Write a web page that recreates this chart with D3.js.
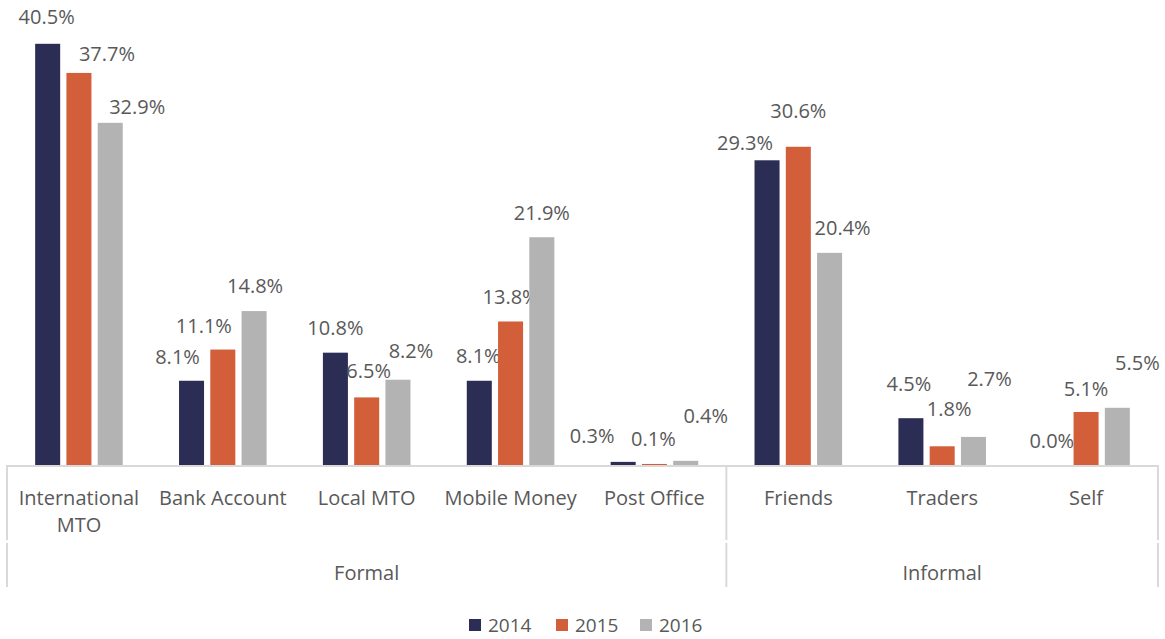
<!DOCTYPE html>
<html>
<head>
<meta charset="utf-8">
<script src="https://cdn.jsdelivr.net/npm/d3@7"></script>
<style>
  body { margin: 0; background: #fff; }
  text { font-family: "Open Sans", "Noto Sans", sans-serif; fill: #595959; }
</style>
</head>
<body>
<div id="chart-area"></div>
<script>
// DATA
const categories = ["International MTO", "Bank Account", "Local MTO", "Mobile Money", "Post Office", "Friends", "Traders", "Self"]
const groupNames = ["Formal", "Informal"]
const groupSizes = [5, 3]
const years = ["2014", "2015", "2016"]
const v2014 = [40.5, 8.1, 10.8, 8.1, 0.3, 29.3, 4.5, 0.0]
const v2015 = [37.7, 11.1, 6.5, 13.8, 0.1, 30.6, 1.8, 5.1]
const v2016 = [32.9, 14.8, 8.2, 21.9, 0.4, 20.4, 2.7, 5.5]
const seriesValues = [v2014, v2015, v2016]

// label nudges [dx, dy] (the labels in the original were dragged around by hand)
const nudge = [
  [[-1, -3], [-14, 0], [0, -1], [-1, -1], [-31, -2], [-22, 7], [-2, -10], [-3, 0]],
  [[28, 5], [-19, 0], [2, -2], [0, 0], [-1, -1], [0, -12], [7, -13], [0, 1]],
  [[27, 8], [1, -1], [13, -5], [0, 0], [20, -21], [13, -1], [16, -34], [20, -21]]
]

const COLORS = ["#2b2d55", "#d35f3a", "#b3b3b3"]
const WIDTH = 1165
const HEIGHT = 639
const AXIS_LEFT = 7
const AXIS_RIGHT = 1158
const BASE = 466
const AXIS_BOTTOM = 587
const LINE = "#d9d9d9"
const FONT = "20px"

const svg = d3.select("#chart-area").append("svg")
  .attr("width", WIDTH)
  .attr("height", HEIGHT)

// SCALES
const x = d3.scaleBand()
  .domain(categories)
  .range([AXIS_LEFT, AXIS_RIGHT])
  .padding(0)

const xInner = d3.scaleBand()
  .domain(years)
  .range([0, x.bandwidth()])
  .paddingInner(0.2)
  .paddingOuter(0.9)

const y = d3.scaleLinear()
  .domain([0, 45])
  .range([BASE - 1, BASE - 1 - 45 * 10.4])

// BARS
const rows = categories.map((c, i) => ({ cat: c, i: i }))

years.forEach((yr, s) => {
  const g = svg.append("g").attr("class", "series-" + yr)

  g.selectAll("rect")
    .data(rows.filter(d => seriesValues[s][d.i] > 0))
    .enter().append("rect")
      .attr("x", d => x(d.cat) + xInner(yr))
      .attr("width", xInner.bandwidth())
      .attr("y", d => y(seriesValues[s][d.i]))
      .attr("height", d => y(0) - y(seriesValues[s][d.i]))
      .attr("fill", COLORS[s])

  g.selectAll("text")
    .data(rows)
    .enter().append("text")
      .attr("x", d => x(d.cat) + xInner(yr) + xInner.bandwidth() / 2 + nudge[s][d.i][0])
      .attr("y", d => y(seriesValues[s][d.i]) - 17 + nudge[s][d.i][1])
      .attr("text-anchor", "middle")
      .style("font-size", FONT)
      .text(d => seriesValues[s][d.i].toFixed(1) + "%")
})

// AXIS LINES
const axisG = svg.append("g").attr("class", "x axis")

axisG.append("line")
  .attr("x1", AXIS_LEFT - 1).attr("x2", AXIS_RIGHT + 1)
  .attr("y1", BASE).attr("y2", BASE)
  .attr("stroke", LINE).attr("stroke-width", 2)

let cum = 0
const splits = [0]
groupSizes.forEach(n => { cum += n; splits.push(cum) })

splits.forEach(k => {
  const xx = k < categories.length ? x(categories[k]) : AXIS_RIGHT
  axisG.append("line")
    .attr("x1", xx).attr("x2", xx)
    .attr("y1", BASE).attr("y2", 540)
    .attr("stroke", LINE).attr("stroke-width", 2)
  axisG.append("line")
    .attr("x1", xx).attr("x2", xx)
    .attr("y1", 543).attr("y2", AXIS_BOTTOM)
    .attr("stroke", LINE).attr("stroke-width", 2)
})

// CATEGORY LABELS
const catLabels = axisG.selectAll(".cat")
  .data(categories)
  .enter().append("text")
    .attr("class", "cat")
    .attr("x", d => x(d) + x.bandwidth() / 2)
    .attr("y", 505)
    .attr("text-anchor", "middle")
    .style("font-size", FONT)
    .text(d => d)

// wrap labels that don't fit the band
catLabels.each(function (d) {
  const t = d3.select(this)
  if (this.getComputedTextLength() > x.bandwidth() - 6) {
    const words = d.split(" ")
    const last = words.pop()
    t.text(null)
    t.append("tspan").attr("x", t.attr("x")).text(words.join(" "))
    t.append("tspan").attr("x", t.attr("x")).attr("dy", 27).text(last)
  }
})

// GROUP LABELS
axisG.selectAll(".grp")
  .data(groupNames)
  .enter().append("text")
    .attr("class", "grp")
    .attr("x", (d, i) => {
      const a = x(categories[splits[i]])
      const b = splits[i + 1] < categories.length ? x(categories[splits[i + 1]]) : AXIS_RIGHT
      return (a + b) / 2
    })
    .attr("y", 580)
    .attr("text-anchor", "middle")
    .style("font-size", FONT)
    .text(d => d)

// LEGEND
const legendX = [469, 556, 640]
const legend = svg.append("g").attr("class", "legend")
years.forEach((yr, s) => {
  legend.append("rect")
    .attr("x", legendX[s]).attr("y", 619)
    .attr("width", 12).attr("height", 12)
    .attr("fill", COLORS[s])
  legend.append("text")
    .attr("x", legendX[s] + 19).attr("y", 632)
    .style("font-size", "19px")
    .text(yr)
})
</script>
</body>
</html>
